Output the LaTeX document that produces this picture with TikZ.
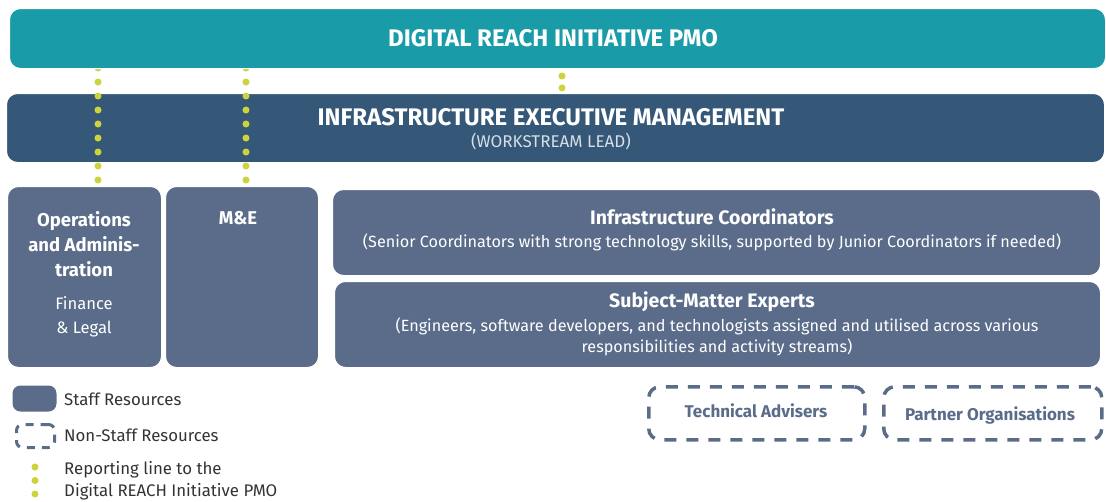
\documentclass[tikz,border=0pt]{standalone}
\usepackage{fontspec}
\setmainfont{Fira Sans}
\usetikzlibrary{positioning}

\definecolor{pmoteal}{HTML}{1A9BA8}
\definecolor{execblue}{HTML}{355878}
\definecolor{staffblue}{HTML}{5A6C8A}
\definecolor{reportdot}{HTML}{CCD33B}
\definecolor{legendgray}{HTML}{333333}

\tikzset{
  panel/.style={rounded corners=11pt, inner sep=0pt, anchor=north west},
  staffbox/.style={panel, fill=staffblue, draw=white, line width=1pt},
  nonstaffbox/.style={panel, draw=staffblue, line width=3.5pt, dash pattern=on 12pt off 10pt},
  reportline/.style={reportdot, line width=7pt, line cap=round, dash pattern=on 0pt off 14pt},
  bartitle/.style={text=white, font=\bfseries\fontsize{24}{28}\selectfont},
  boxtitle/.style={text=white, font=\bfseries\fontsize{19.5}{25}\selectfont, align=center},
  boxtext/.style={text=white, font=\fontsize{16.2}{21}\selectfont, align=center},
  legendtext/.style={text=legendgray, font=\fontsize{16.8}{22}\selectfont, anchor=west, align=left, inner sep=0pt},
}

\begin{document}
\begin{tikzpicture}[x=1pt, y=-1pt]
  \useasboundingbox (0,0) rectangle (1106,501);

  % management bars
  \node[staffbox, fill=execblue, minimum width=1098pt, minimum height=69pt] (exec) at (6,93) {};
  \coordinate (opsline) at (98,0);
  \coordinate (meline) at (246,0);
  \coordinate (midline) at (562,0);

  % teams
  \node[staffbox, minimum width=154pt, minimum height=181pt] (ops) at (7,186) {};
  \node[staffbox, minimum width=153pt, minimum height=181pt] (me) at (165,186) {};
  \node[staffbox, minimum width=768pt, minimum height=86pt] (coord) at (332,189) {};
  \node[staffbox, minimum width=766pt, minimum height=86pt] (sme) at (334,281) {};

  % reporting lines
  \draw[reportline] (exec.north -| opsline) ++(0,-25) -- (ops.north -| opsline);
  \draw[reportline] (exec.north -| meline) ++(0,-25) -- (me.north -| meline);
  \draw[reportline, dash pattern=on 0pt off 11.9pt, shorten <=8pt, shorten >=5pt] (exec.north -| midline) ++(0,-25) -- (exec.north -| midline);

  \node[staffbox, fill=pmoteal, minimum width=1096pt, minimum height=60pt] (pmo) at (9,8) {};

  \draw (553,38) node[bartitle] {DIGITAL REACH INITIATIVE PMO};
  \draw (551,117) node[bartitle] {INFRASTRUCTURE EXECUTIVE MANAGEMENT};
  \draw (551,142) node[boxtext, text=white!80!execblue, font=\fontsize{17}{18}\selectfont] {(WORKSTREAM LEAD)};

  \draw (84,244) node[boxtitle, font=\bfseries\fontsize{18.5}{25}\selectfont] {Operations\\and Adminis-\\tration};
  \draw (84,317) node[boxtext, font=\fontsize{16.6}{24}\selectfont] {Finance\\\& Legal};
  \draw (238,218) node[boxtitle, font=\bfseries\fontsize{18.5}{25}\selectfont] {M\&E};

  \draw (712,217) node[boxtitle] {Infrastructure Coordinators};
  \draw (712,242) node[boxtext] {(Senior Coordinators with strong technology skills, supported by Junior Coordinators if needed)};
  \draw (712,302) node[boxtitle] {Subject-Matter Experts};
  \draw (717,337) node[boxtext] {(Engineers, software developers, and technologists assigned and utilised across various\\responsibilities and activity streams)};

  % outside help
  \node[nonstaffbox, minimum width=216pt, minimum height=53pt] (advisers) at (647,385) {};
  \node[nonstaffbox, minimum width=218pt, minimum height=53pt] (partners) at (882,385) {};
  \draw (756,411) node[boxtitle, text=staffblue, font=\bfseries\fontsize{17}{20}\selectfont] {Technical Advisers};
  \draw (990,415) node[boxtitle, text=staffblue, font=\bfseries\fontsize{17}{20}\selectfont] {Partner Organisations};

  % legend
  \node[staffbox, rounded corners=8pt, draw=none, minimum width=44pt, minimum height=26pt] (keystaff) at (12,385) {};
  \node[nonstaffbox, rounded corners=6pt, line width=3pt, dash pattern=on 8pt off 7pt, minimum width=38pt, minimum height=23pt] (keyext) at (15,423) {};
  \coordinate (keydots) at (35,467);
  \draw[reportline, dash pattern=on 0pt off 13.5pt] (keydots) -- ++(0,27.5);
  \draw (64,399) node[legendtext] {Staff Resources};
  \draw (64,435) node[legendtext] {Non-Staff Resources};
  \draw (64,481) node[legendtext] {Reporting line to the\\Digital REACH Initiative PMO};
\end{tikzpicture}
\end{document}
